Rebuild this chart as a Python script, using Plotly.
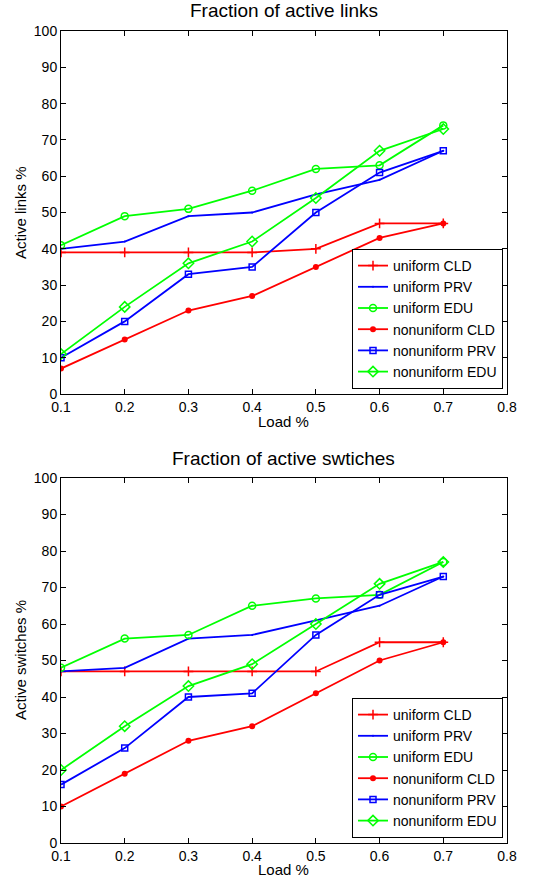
import plotly.graph_objects as go

load = [0.1, 0.2, 0.3, 0.4, 0.5, 0.6, 0.7]
series_names = ["uniform CLD", "uniform PRV", "uniform EDU",
                "nonuniform CLD", "nonuniform PRV", "nonuniform EDU"]

links_uniform_cld = [39, 39, 39, 39, 40, 47, 47]
links_uniform_prv = [40, 42, 49, 50, 55, 59, 67]
links_uniform_edu = [41, 49, 51, 56, 62, 63, 74]
links_nonuniform_cld = [7, 15, 23, 27, 35, 43, 47]
links_nonuniform_prv = [10, 20, 33, 35, 50, 61, 67]
links_nonuniform_edu = [11, 24, 36, 42, 54, 67, 73]

sw_uniform_cld = [47, 47, 47, 47, 47, 55, 55]
sw_uniform_prv = [47, 48, 56, 57, 61, 65, 73]
sw_uniform_edu = [48, 56, 57, 65, 67, 68, 77]
sw_nonuniform_cld = [10, 19, 28, 32, 41, 50, 55]
sw_nonuniform_prv = [16, 26, 40, 41, 57, 68, 73]
sw_nonuniform_edu = [20, 32, 43, 49, 60, 71, 77]

x_ticks = [0.1, 0.2, 0.3, 0.4, 0.5, 0.6, 0.7, 0.8]
y_ticks = list(range(0, 101, 10))

RED, BLUE, GREEN = "#FF0000", "#0000FF", "#00FF00"
styles = [
    (RED, dict(symbol="cross-thin", size=7, line=dict(color=RED, width=1.5))),
    (BLUE, dict(symbol="circle", size=2, color=BLUE)),
    (GREEN, dict(symbol="circle-open", size=7, line=dict(color=GREEN, width=1.5))),
    (RED, dict(symbol="circle", size=6, color=RED)),
    (BLUE, dict(symbol="square-open", size=6, line=dict(color=BLUE, width=1.5))),
    (GREEN, dict(symbol="diamond-open", size=8, line=dict(color=GREEN, width=1.5))),
]

FONT = "Liberation Sans, Arial, sans-serif"
fig = go.Figure()

top = [links_uniform_cld, links_uniform_prv, links_uniform_edu,
       links_nonuniform_cld, links_nonuniform_prv, links_nonuniform_edu]
bot = [sw_uniform_cld, sw_uniform_prv, sw_uniform_edu,
       sw_nonuniform_cld, sw_nonuniform_prv, sw_nonuniform_edu]

for name, ys, (col, mk) in zip(series_names, top, styles):
    fig.add_trace(go.Scatter(x=load, y=ys, name=name, mode="lines+markers",
                             line=dict(color=col, width=1.8), marker=mk,
                             xaxis="x", yaxis="y", legend="legend"))
for name, ys, (col, mk) in zip(series_names, bot, styles):
    fig.add_trace(go.Scatter(x=load, y=ys, name=name, mode="lines+markers",
                             line=dict(color=col, width=1.8), marker=mk,
                             xaxis="x2", yaxis="y2", legend="legend2"))

W, H = 533, 881
xl, xr = 61 / W, 507 / W
top_dom = [1 - 394 / H, 1 - 31 / H]
bot_dom = [1 - 843 / H, 1 - 478 / H]

axis_common = dict(showline=True, linecolor="black", linewidth=1, mirror="ticks",
                   ticks="inside", ticklen=5, tickcolor="black", showgrid=False,
                   zeroline=False, automargin=False,
                   tickfont=dict(size=14, color="black", family=FONT))

xax = dict(range=[0.1, 0.8], tickvals=x_ticks, ticktext=[f"{v:g}" for v in x_ticks],
           domain=[xl, xr], **axis_common)
yax = dict(range=[0, 100], tickvals=y_ticks, **axis_common)

legend_common = dict(bgcolor="white", bordercolor="black", borderwidth=1,
                     font=dict(size=14, color="black", family=FONT),
                     xanchor="right", yanchor="bottom", tracegroupgap=0,
                     itemwidth=30)

def txt(text, x, y, size, angle=0):
    return dict(text=text, x=x, y=y, xref="paper", yref="paper", showarrow=False,
                xanchor="center", yanchor="middle", textangle=angle,
                font=dict(size=size, family=FONT, color="black"))

fig.update_layout(
    width=W, height=H, margin=dict(l=0, r=0, t=0, b=0),
    paper_bgcolor="white", plot_bgcolor="white",
    font=dict(family=FONT, color="black"),
    xaxis=dict(anchor="y", **xax),
    yaxis=dict(anchor="x", domain=top_dom, **yax),
    xaxis2=dict(anchor="y2", **xax),
    yaxis2=dict(anchor="x2", domain=bot_dom, **yax),
    legend=dict(x=503 / W, y=1 - 389 / H, **legend_common),
    legend2=dict(x=503 / W, y=1 - 838 / H, **legend_common),
    showlegend=True,
    annotations=[
        txt("Fraction of active links", (xl + xr) / 2, 1 - 11 / H, 19),
        txt("Fraction of active swtiches", (xl + xr) / 2, 1 - 458 / H, 19),
        txt("Load %", (xl + xr) / 2, 1 - 421 / H, 15),
        txt("Load %", (xl + xr) / 2, 1 - 869 / H, 15),
        txt("Active links %", 20 / W, 1 - 213 / H, 15, -90),
        txt("Active switches %", 20 / W, 1 - 660 / H, 15, -90),
    ],
)

fig.write_html("out.html", config={"displayModeBar": False},
               post_script="document.body.style.margin='0';document.body.style.overflow='hidden';")
